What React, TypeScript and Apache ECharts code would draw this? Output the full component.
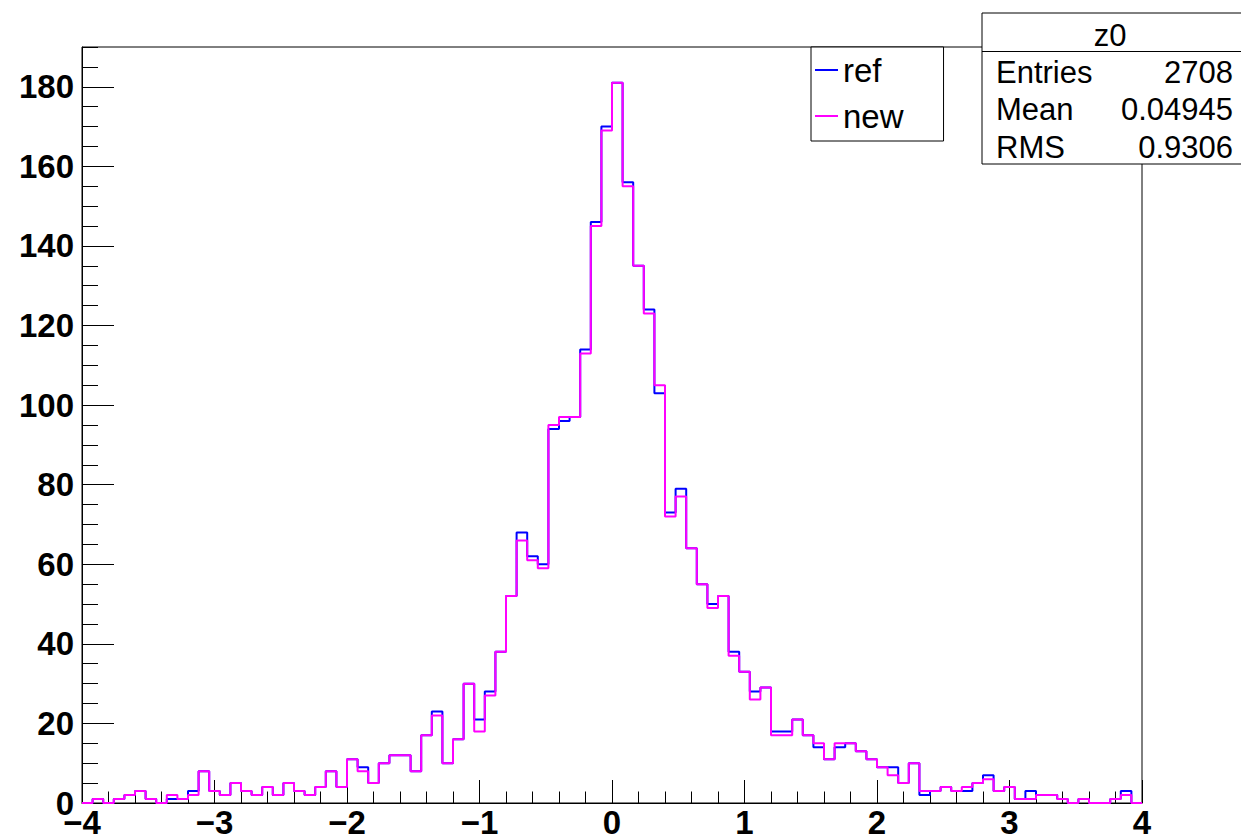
import React, { useEffect, useRef } from "react";
import * as echarts from "echarts";

// Histogram definition
const X_MIN = -4;
const X_MAX = 4;
const N_BINS = 100;
const Y_MAX = 190;

const seriesNames = ["ref", "new"];

const refCounts = [
  0, 1, 0, 1, 2, 3, 1, 0, 1, 1,
  3, 8, 3, 2, 5, 3, 2, 4, 2, 5,
  3, 2, 4, 8, 4, 11, 9, 5, 10, 12,
  12, 8, 17, 23, 10, 16, 30, 21, 28, 38,
  52, 68, 62, 60, 94, 96, 97, 114, 146, 170,
  181, 156, 135, 124, 103, 73, 79, 64, 55, 50,
  52, 38, 33, 28, 29, 18, 18, 21, 17, 14,
  11, 14, 15, 13, 11, 9, 9, 5, 10, 2,
  3, 4, 3, 3, 5, 7, 3, 4, 1, 3,
  2, 2, 1, 0, 1, 0, 0, 1, 3, 0,
];

const newCounts = [
  0, 1, 0, 1, 2, 3, 1, 0, 2, 1,
  2, 8, 3, 2, 5, 3, 2, 4, 2, 5,
  3, 2, 4, 8, 4, 11, 8, 5, 10, 12,
  12, 8, 17, 22, 10, 16, 30, 18, 27, 38,
  52, 66, 61, 59, 95, 97, 97, 113, 145, 169,
  181, 155, 135, 123, 105, 72, 77, 64, 55, 49,
  52, 37, 33, 26, 29, 17, 17, 21, 17, 15,
  11, 15, 15, 13, 11, 9, 7, 5, 10, 3,
  3, 4, 3, 4, 5, 6, 3, 4, 1, 1,
  2, 2, 1, 0, 1, 0, 0, 1, 2, 0,
];

const statsTitle = "z0";
const statsLabels = ["Entries", "Mean", "RMS"];
const statsValues = ["2708", "0.04945", "0.9306"];

const FONT = "Liberation Sans, Arial, Helvetica, sans-serif";

function toSteps(counts: number[]): number[][] {
  const w = (X_MAX - X_MIN) / N_BINS;
  const pts = counts.map((c, i) => [X_MIN + i * w, c]);
  pts.push([X_MAX, counts[counts.length - 1]]);
  return pts;
}

function fmtX(v: number): string {
  return v < 0 ? "\u2212" + Math.abs(v) : String(v);
}

const statsRowsY = [72, 109, 147];

function buildOption(): echarts.EChartsOption {
  const graphics: any[] = [
    {
      type: "rect",
      z: 100,
      shape: { x: 982, y: 13, width: 275, height: 151 },
      style: { fill: "#fff", stroke: "#000", lineWidth: 1 },
    },
    {
      type: "line",
      z: 101,
      shape: { x1: 982, y1: 51.5, x2: 1245, y2: 51.5 },
      style: { stroke: "#000", lineWidth: 1 },
    },
    {
      type: "text",
      z: 101,
      x: 1110,
      y: 35,
      style: {
        text: statsTitle,
        font: `31px ${FONT}`,
        fill: "#000",
        align: "center",
        verticalAlign: "middle",
      },
    },
  ];
  statsLabels.forEach((lab, i) => {
    graphics.push({
      type: "text",
      z: 101,
      x: 996,
      y: statsRowsY[i],
      style: {
        text: lab,
        font: `31px ${FONT}`,
        fill: "#000",
        align: "left",
        verticalAlign: "middle",
      },
    });
    graphics.push({
      type: "text",
      z: 101,
      x: 1233,
      y: statsRowsY[i],
      style: {
        text: statsValues[i],
        font: `31px ${FONT}`,
        fill: "#000",
        align: "right",
        verticalAlign: "middle",
      },
    });
  });

  return {
    animation: false,
    backgroundColor: "#fff",
    grid: {
      left: 82,
      top: 47,
      width: 1060,
      height: 756,
      show: true,
      borderColor: "#000",
      borderWidth: 1,
      backgroundColor: "transparent",
    },
    legend: {
      data: seriesNames,
      orient: "vertical",
      left: 811,
      top: 47,
      padding: [0, 40, 2, 4],
      itemGap: 0,
      itemWidth: 23,
      itemHeight: 2,
      icon: "rect",
      backgroundColor: "#fff",
      borderColor: "#000",
      borderWidth: 1,
      borderRadius: 0,
      z: 50,
      textStyle: {
        fontSize: 33,
        fontFamily: FONT,
        color: "#000",
        lineHeight: 46,
      },
    },
    xAxis: {
      type: "value",
      min: X_MIN,
      max: X_MAX,
      interval: 1,
      axisLine: { show: true, onZero: false, lineStyle: { color: "#000", width: 1 } },
      axisTick: { show: true, inside: true, length: 23, lineStyle: { color: "#000" } },
      minorTick: { show: true, splitNumber: 5, length: 11.5, lineStyle: { color: "#000" } },
      splitLine: { show: false },
      minorSplitLine: { show: false },
      axisLabel: {
        formatter: (v: number) => fmtX(v),
        fontSize: 33,
        fontWeight: "bold",
        fontFamily: FONT,
        color: "#000",
        lineHeight: 26,
        margin: 6,
      },
    },
    yAxis: [
      {
        type: "value",
        position: "left",
        min: 0,
        max: Y_MAX,
        interval: 20,
        axisLine: { show: true, onZero: false, lineStyle: { color: "#000", width: 1 } },
        axisTick: { show: true, inside: true, length: 32, lineStyle: { color: "#000" } },
        splitLine: { show: false },
        axisLabel: {
          fontSize: 33,
          fontWeight: "bold",
          fontFamily: FONT,
          color: "#000",
          lineHeight: 16,
          margin: 8,
          showMaxLabel: false,
        },
      },
      {
        type: "value",
        position: "left",
        offset: 0,
        min: 0,
        max: Y_MAX,
        interval: 5,
        axisLine: { show: false, onZero: false },
        axisTick: { show: true, inside: true, length: 16, lineStyle: { color: "#000" } },
        splitLine: { show: false },
        axisLabel: { show: false },
      },
    ],
    series: [
      {
        name: seriesNames[0],
        type: "line",
        step: "end",
        yAxisIndex: 0,
        data: toSteps(refCounts),
        symbol: "none",
        showSymbol: false,
        lineStyle: { color: "#0000ff", width: 2 },
        itemStyle: { color: "#0000ff" },
        z: 2,
      },
      {
        name: seriesNames[1],
        type: "line",
        step: "end",
        yAxisIndex: 0,
        data: toSteps(newCounts),
        symbol: "none",
        showSymbol: false,
        lineStyle: { color: "#ff00ff", width: 2 },
        itemStyle: { color: "#ff00ff" },
        z: 3,
      },
    ],
    graphic: graphics,
  } as any;
}

export default function App() {
  const divRef = useRef<HTMLDivElement>(null);
  useEffect(() => {
    const chart = echarts.init(divRef.current!, undefined, { renderer: "svg" });
    chart.setOption(buildOption());
    return () => chart.dispose();
  }, []);
  return (
    <div
      ref={divRef}
      style={{
        position: "fixed",
        left: 0,
        top: 0,
        width: 1241,
        height: 839,
        background: "#fff",
      }}
    />
  );
}
